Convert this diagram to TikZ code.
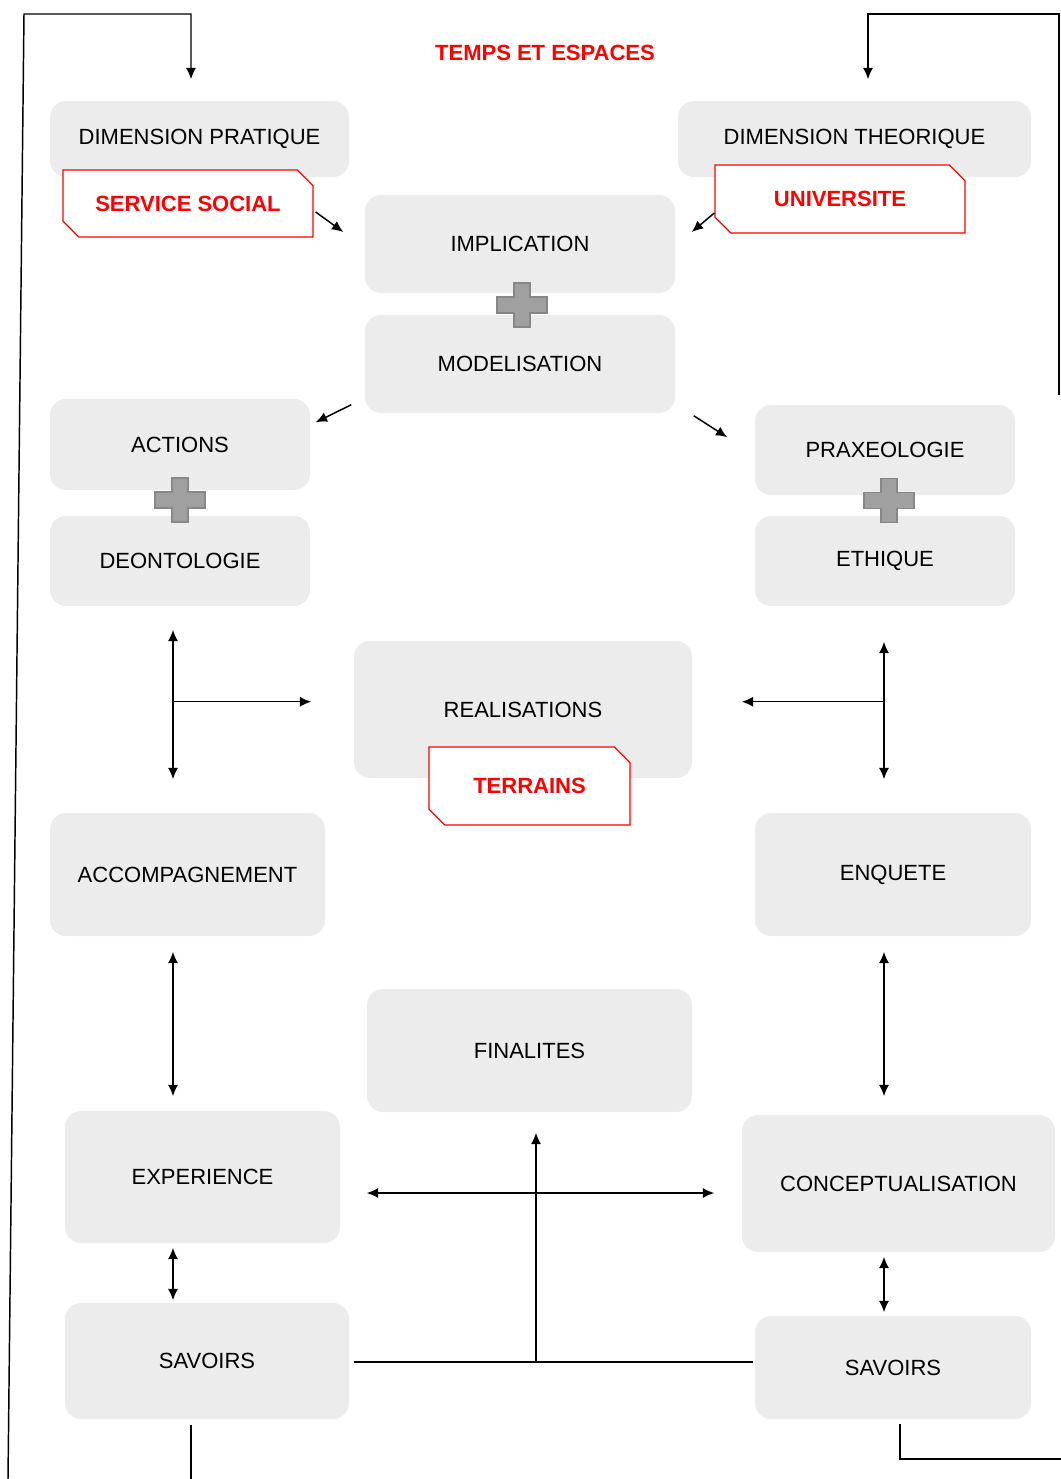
\documentclass[tikz,border=0pt]{standalone}
\usepackage{fontspec}
\setmainfont{Liberation Sans}
\usepackage{tikz}
\usetikzlibrary{arrows.meta,positioning,calc,shapes.misc}
\definecolor{boxgray}{RGB}{236,236,236}
\definecolor{tagred}{RGB}{255,0,0}
\definecolor{plusfill}{RGB}{160,160,160}
\definecolor{plusline}{RGB}{135,135,135}
\newcommand*{\Px}{0.75pt}
\newcommand*{\PlusSign}[1]{%
\draw[fill=plusfill,draw=plusline,line width=1pt] (#1) ++(-8,-22) -- ++(16,0) -- ++(0,14) -- ++(17,0) -- ++(0,16) -- ++(-17,0) -- ++(0,14) -- ++(-16,0) -- ++(0,-14) -- ++(-17,0) -- ++(0,-16) -- ++(17,0) -- cycle;}
\tikzset{
pale/.style 2 args={fill=boxgray,rounded corners=12pt,inner sep=0pt,minimum width=#1*\Px,minimum height=#2*\Px,font=\fontsize{16.5}{20}\selectfont},
tag/.style 2 args={chamfered rectangle,chamfered rectangle corners={north east,south west},chamfered rectangle sep=6pt,draw=tagred,fill=white,line width=1pt,text=tagred,inner sep=0pt,minimum width=#1*\Px,minimum height=#2*\Px,font=\fontsize{16.5}{20}\selectfont\bfseries},
}

\begin{document}
\begin{tikzpicture}[>={Latex[length=8.5pt,width=7.5pt]},x=0.75pt,y=-0.75pt,line width=1.1pt]
\useasboundingbox (0,0) rectangle (1061,1479);
\node[pale={299}{76}] (DimPratique) at (199.5,139) {DIMENSION PRATIQUE};
\node[tag={250}{67}] (ServiceSocial) at (188,203.5) {SERVICE SOCIAL};
\node[pale={353}{76}] (DimTheorique) at (854.5,139) {DIMENSION THEORIQUE};
\node[tag={250}{68}] (Universite) at (840,199) {UNIVERSITE};
\node[font=\fontsize{16.5}{20}\selectfont\bfseries,text=tagred] (Titre) at (545,53) {TEMPS ET ESPACES};
\node[pale={310}{98}] (Implication) at (520,244) {IMPLICATION};
\node[pale={310}{98}] (Modelisation) at (520,364) {MODELISATION};
\node[pale={260}{91}] (Actions) at (180,444.5) {ACTIONS};
\node[pale={260}{90}] (Deontologie) at (180,561) {DEONTOLOGIE};
\node[pale={260}{90}] (Praxeologie) at (885,450) {PRAXEOLOGIE};
\node[pale={260}{90}] (Ethique) at (885,561) {ETHIQUE};
\node[pale={338}{137}] (Realisations) at (523,709.5) {REALISATIONS};
\node[tag={201}{78}] (Terrains) at (529.5,786) {TERRAINS};
\node[pale={275}{123}] (Accompagnement) at (187.5,874.5) {ACCOMPAGNEMENT};
\node[pale={276}{123}] (Enquete) at (893,874.5) {ENQUETE};
\node[pale={325}{123}] (Finalites) at (529.5,1050.5) {FINALITES};
\node[pale={275}{132}] (Experience) at (202.5,1177) {EXPERIENCE};
\node[pale={313}{137}] (Conceptualisation) at (898.5,1183.5) {CONCEPTUALISATION};
\node[pale={284}{116}] (SavoirsL) at (207,1361) {SAVOIRS};
\node[pale={276}{103}] (SavoirsR) at (893,1367.5) {SAVOIRS};
% plus signs
\coordinate (PlusA) at ($(Implication.south)!0.5!(Modelisation.north)+(2,1)$);
\coordinate (PlusB) at ($(Actions.south)!0.5!(Deontologie.north)+(0,-3)$);
\coordinate (PlusC) at ($(Praxeologie.south)!0.5!(Ethique.north)+(4,-5)$);
\PlusSign{PlusA}
\PlusSign{PlusB}
\PlusSign{PlusC}
% short arrows
\draw[->] ($(ServiceSocial.east)+(2,8.5)$) -- ($(Implication.west)+(-21,-12)$);
\draw[->] ($(Universite.west)+(0,14)$) -- ($(Implication.east)+(16,-12)$);
\draw[->] ($(Modelisation.south west)+(-13,-9)$) -- ($(Actions.north east)+(5,24)$);
\draw[->] ($(Modelisation.south east)+(18,2)$) -- ($(Praxeologie.north west)+(-27,33)$);
% T junctions
\draw[<->] ($(Deontologie.south)+(-7,23)$) -- ($(Accompagnement.north)+(-14.5,-33)$);
\coordinate (LeftJoin) at ($(Deontologie.south)+(-7,95)$);
\draw[->] (LeftJoin) -- ($(LeftJoin -| Realisations.west)+(-42,0)$);
\draw[<->] ($(Ethique.south)+(-1,35)$) -- ($(Enquete.north)+(-9,-33)$);
\coordinate (RightJoin) at ($(Ethique.south)+(-1,95)$);
\draw[->] (RightJoin) -- ($(RightJoin -| Realisations.east)+(49,0)$);
\draw[<->] ($(Accompagnement.south)+(-14.5,15)$) -- ($(Experience.north)+(-29.5,-14)$);
\draw[<->] ($(Enquete.south)+(-9,15)$) -- ($(Conceptualisation.north)+(-14.5,-18)$);
\draw[<->] ($(Experience.south)+(-29.5,4)$) -- ($(SavoirsL.north)+(-34,-2)$);
\draw[<->] ($(Conceptualisation.south)+(-14.5,4)$) -- ($(SavoirsR.north)+(-9,-3)$);
% bottom cross
\draw ($(SavoirsL.east)+(4,1)$) -- ($(SavoirsL.east -| SavoirsR.west)+(-1,1)$);
\coordinate (BottomJoin) at ($(Finalites.south |- SavoirsL.east)+(6.5,1)$);
\draw[->] (BottomJoin) -- ($(Finalites.south)+(6.5,20)$);
\draw[<->] ($(Experience.east)+(26,16)$) -- ($(Conceptualisation.west)+(-27,9.5)$);
% loops round the page
\coordinate (LeftBase) at (8,1479);
\coordinate (LeftTop) at (24,14);
\coordinate (LeftTurn) at (191,14);
\coordinate (LeftFoot) at (191,1479);
\draw[->] (LeftBase) -- (LeftTop) -- (LeftTurn) -- ($(DimPratique.north)+(-8.5,-21)$);
\draw ($(SavoirsL.south)+(-16,5)$) -- (LeftFoot);
\coordinate (RightBase) at (1059,395);
\coordinate (RightTop) at (1059,14);
\coordinate (RightTurn) at (868,14);
\coordinate (RightFoot) at (1061,1459);
\draw[->] (RightBase) -- (RightTop) -- (RightTurn) -- ($(DimTheorique.north)+(13.5,-21)$);
\draw ($(SavoirsR.south)+(7,4)$) |- (RightFoot);
\end{tikzpicture}
\end{document}
